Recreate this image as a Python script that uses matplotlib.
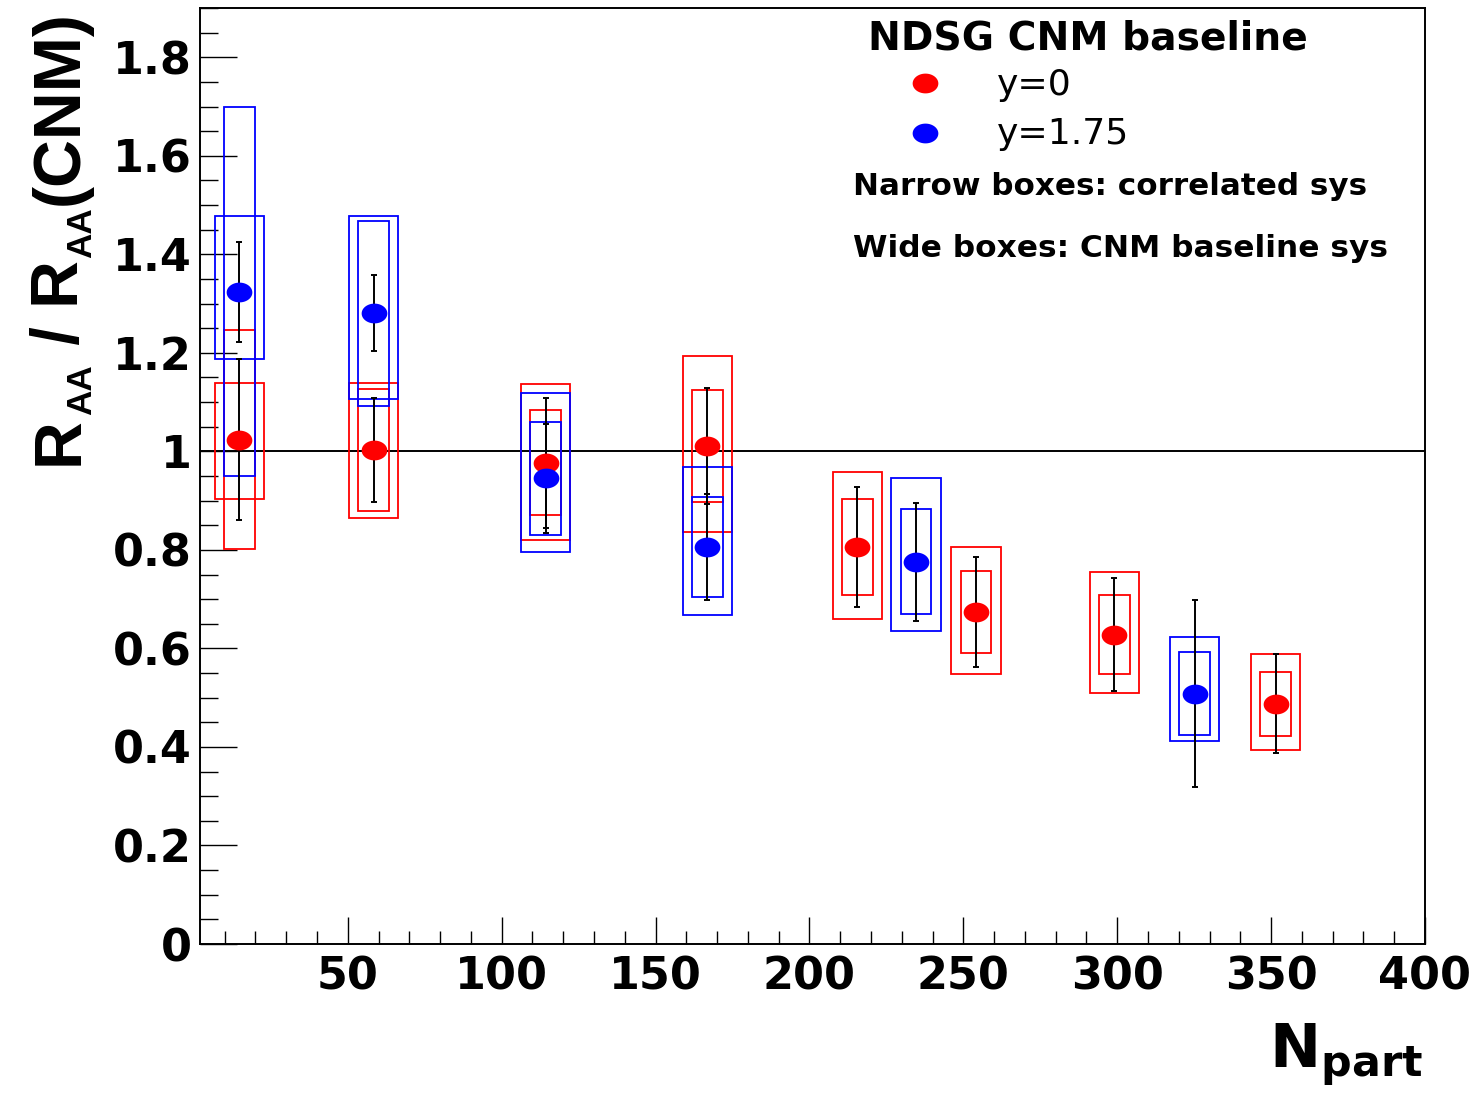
import matplotlib
matplotlib.use('Agg')
import numpy as np
import matplotlib.pyplot as plt
from matplotlib import font_manager as fm
from matplotlib.patches import Rectangle
from matplotlib.path import Path
from matplotlib.lines import Line2D
from matplotlib.ticker import MultipleLocator, FuncFormatter

# ---------------- data ----------------
# y = 0 (red)
npart_y0 = [14.8, 58.4, 114.3, 166.8, 215.5, 254.1, 299.1, 351.5]
raa_y0 = [1.024, 1.003, 0.977, 1.011, 0.806, 0.674, 0.628, 0.488]
stat_y0 = [0.163, 0.105, 0.132, 0.117, 0.121, 0.112, 0.114, 0.100]
corr_y0 = [0.223, 0.124, 0.107, 0.113, 0.098, 0.084, 0.080, 0.065]      # narrow boxes
cnm_lo_y0 = [0.120, 0.138, 0.156, 0.175, 0.146, 0.125, 0.119, 0.095]    # wide boxes (down)
cnm_hi_y0 = [0.114, 0.136, 0.160, 0.182, 0.153, 0.131, 0.127, 0.101]    # wide boxes (up)

# y = 1.75 (blue)
npart_y175 = [14.8, 58.4, 114.3, 166.8, 234.6, 325.2]
raa_y175 = [1.324, 1.280, 0.945, 0.806, 0.776, 0.508]
stat_y175 = [0.102, 0.077, 0.111, 0.107, 0.120, 0.190]
corr_y175 = [0.375, 0.187, 0.114, 0.102, 0.107, 0.084]
cnm_lo_y175 = [0.137, 0.174, 0.149, 0.139, 0.140, 0.096]
cnm_hi_y175 = [0.153, 0.198, 0.174, 0.163, 0.169, 0.115]

series_labels = ['y=0', 'y=1.75']
legend_title = 'NDSG CNM baseline'
note_lines = ['Narrow boxes: correlated sys', 'Wide boxes: CNM baseline sys']
# y-axis title pieces: (text, is_subscript)
ytitle_pieces = [('R', False), ('AA', True), (' / R', False), ('AA', True), ('(CNM)', False)]
xtitle = r'$\mathbf{N}_{\mathbf{part}}$'

# ---------------- style ----------------
W, H, DPI = 1483, 1093, 100

fig = plt.figure(figsize=(W / DPI, H / DPI), dpi=DPI)
fig.patch.set_facecolor('white')
ax = fig.add_axes([200 / W, 1 - 944 / H, (1425 - 200) / W, (944 - 8) / H])
ax.set_xlim(2, 400)
ax.set_ylim(0, 1.9)

for s in ax.spines.values():
    s.set_linewidth(1.4)

ax.xaxis.set_major_locator(MultipleLocator(50))
ax.xaxis.set_minor_locator(MultipleLocator(10))
ax.yaxis.set_major_locator(MultipleLocator(0.2))
ax.yaxis.set_minor_locator(MultipleLocator(0.05))
ax.yaxis.set_major_formatter(FuncFormatter(lambda v, p: f'{v:g}'))
ax.xaxis.set_major_formatter(FuncFormatter(lambda v, p: f'{v:g}'))
ax.tick_params(which='both', direction='in', top=False, right=False, width=1.0, color='black')
ax.tick_params(axis='x', which='major', length=19.4, pad=8.5)
ax.tick_params(axis='x', which='minor', length=9.4)
ax.tick_params(axis='y', which='major', length=26.6, pad=6.0)
ax.tick_params(axis='y', which='minor', length=13.0)
for lab in ax.get_xticklabels() + ax.get_yticklabels():
    lab.set_fontfamily('DejaVu Sans')
    lab.set_fontweight('bold')
    lab.set_fontsize(32)

ax.axhline(1.0, color='black', lw=1.4, zorder=1.5)

# ellipse marker (ROOT full circle, stretched)
th = np.linspace(0, 2 * np.pi, 73)
ell = Path(np.column_stack([np.cos(th), 0.77 * np.sin(th)]), closed=True)
MS = 18.5
NARROW_HW, WIDE_HW = 5.0, 8.0
BOX_LW = 1.3


def draw_series(x, y, stat, corr, clo, chi, color):
    for xi, yi, c, lo, hi in zip(x, y, corr, clo, chi):
        ax.add_patch(Rectangle((xi - WIDE_HW, yi - lo), 2 * WIDE_HW, lo + hi, fill=False,
                               ec=color, lw=BOX_LW, zorder=2))
        ax.add_patch(Rectangle((xi - NARROW_HW, yi - c), 2 * NARROW_HW, 2 * c, fill=False,
                               ec=color, lw=BOX_LW, zorder=2))
    ax.errorbar(x, y, yerr=stat, fmt='none', ecolor='black', elinewidth=1.4,
                capsize=2.4, capthick=1.4, zorder=3)


draw_series(npart_y0, raa_y0, stat_y0, corr_y0, cnm_lo_y0, cnm_hi_y0, 'red')
draw_series(npart_y175, raa_y175, stat_y175, corr_y175, cnm_lo_y175, cnm_hi_y175, 'blue')
ax.plot(npart_y0, raa_y0, ls='none', marker=ell, ms=MS, color='red', mew=0, zorder=4)
ax.plot(npart_y175, raa_y175, ls='none', marker=ell, ms=MS, color='blue', mew=0, zorder=4)


def fx(x):
    return x / W


def fy(y):
    return 1 - y / H


# ---- y title built from pieces (large subscripts like ROOT) ----
names = {f.name for f in fm.fontManager.ttflist}
if 'Liberation Sans Narrow' in names:
    yfont = dict(family='Liberation Sans Narrow', weight='bold')
elif 'Liberation Sans' in names:
    yfont = dict(family='Liberation Sans', weight='bold')
else:
    yfont = dict(family='DejaVu Sans', weight='bold')

renderer = fig.canvas.get_renderer()
SUB = 0.53
Y_START, Y_END = 465.0, 8.0
BASE_X = 78.0


def build_ytitle(F):
    arts = []
    y = Y_START
    em_px = F * DPI / 72.0
    for txt, sub in ytitle_pieces:
        size = F * SUB if sub else F
        xb = BASE_X + (0.2 * em_px if sub else 0.0)
        t = fig.text(fx(xb), fy(y), txt, rotation=90, rotation_mode='anchor',
                     ha='left', va='baseline', fontsize=size, **yfont)
        bb = t.get_window_extent(renderer)
        y -= bb.height + 0.03 * em_px
        arts.append(t)
    return arts, Y_START - y


F = 50.0
for _ in range(3):
    arts, length = build_ytitle(F)
    for a in arts:
        a.remove()
    F *= (Y_START - Y_END) / length
arts, length = build_ytitle(F)

fig.text(fx(1423), fy(1067), xtitle, ha='right', va='baseline',
         fontsize=44, math_fontfamily='dejavusans')

# ---- legend ----
fig.text(fx(868), fy(50), legend_title, fontsize=28.3, fontweight='bold',
         family='DejaVu Sans', va='baseline')
for (ly, col, lab, base) in [(83, 'red', series_labels[0], 95), (133, 'blue', series_labels[1], 144)]:
    fig.add_artist(Line2D([fx(925)], [fy(ly)], ls='none', marker=ell, ms=MS, color=col,
                          mew=0, transform=fig.transFigure))
    fig.text(fx(997), fy(base), lab, fontsize=26, family='DejaVu Sans', va='baseline')
fig.text(fx(853), fy(195), note_lines[0], fontsize=22.3, fontweight='bold',
         family='DejaVu Sans', va='baseline')
fig.text(fx(853), fy(257), note_lines[1], fontsize=22.5, fontweight='bold',
         family='DejaVu Sans', va='baseline')

fig.savefig('out.png', dpi=DPI, facecolor='white')
